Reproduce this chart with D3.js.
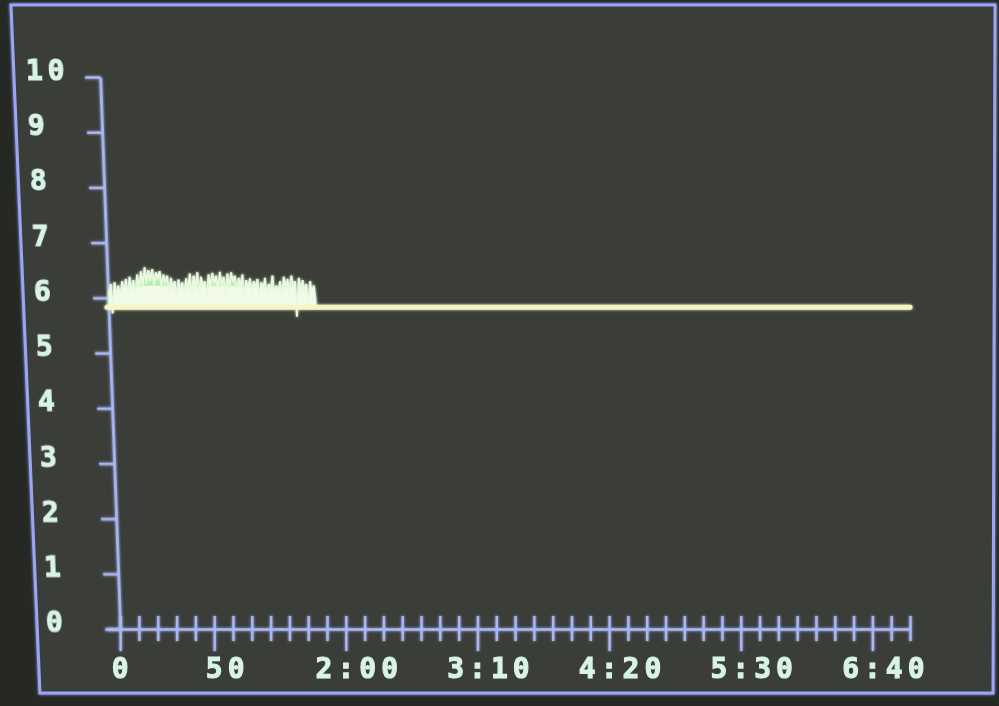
<!DOCTYPE html>
<html>
<head>
<meta charset="utf-8">
<script src="https://cdn.jsdelivr.net/npm/d3@7/dist/d3.min.js"></script>
<style>
  html, body { margin: 0; padding: 0; background: #2b2d28; }
  svg { display: block; }
  .lbl { font-family: "DejaVu Sans Mono", "Liberation Mono", monospace; font-weight: bold; font-size: 28px; letter-spacing: 5px; fill: #d8f3e8; stroke: #d8f3e8; stroke-width: 1.1px; }
</style>
</head>
<body>
<svg id="chart" width="999" height="706"></svg>
<script>
// ---------- DATA ----------
const yTickValues = [0, 1, 2, 3, 4, 5, 6, 7, 8, 9, 10];
const yTickLabels = ["0", "1", "2", "3", "4", "5", "6", "7", "8", "9", "10"];
const xLabelValues = [0, 50, 120, 190, 260, 330, 400];          // seconds
const xLabelTexts  = ["0", "50", "2:00", "3:10", "4:20", "5:30", "6:40"];
const xMinorStep = 10;                                           // minor tick every 10 s
const xDomain = [-7, 420];
const yDomain = [0, 10];

// steady reference trace
const baselineTimes  = [-7, 420];
const baselineValues = [5.83, 5.83];

// noisy measured trace, one sample per second starting at t = -6 s
const signalStart = -6;
const signalValues = [
  6.05, 6.25, 5.72, 6.28, 6.02, 6.22, 5.95, 6.30, 6.05, 6.34,
  5.98, 6.38, 6.10, 6.32, 6.02, 6.42, 6.12, 6.48, 6.20, 6.55,
  6.25, 6.50, 6.30, 6.52, 6.22, 6.46, 6.35, 6.48, 6.18, 6.42,
  6.28, 6.40, 6.05, 6.36, 6.15, 6.30, 5.98, 6.33, 6.12, 6.28,
  6.02, 6.35, 6.10, 6.44, 6.00, 6.40, 6.15, 6.46, 6.05, 6.38,
  6.20, 6.30, 5.96, 6.42, 6.18, 6.45, 6.25, 6.40, 6.10, 6.47,
  6.22, 6.38, 6.02, 6.44, 6.15, 6.46, 6.28, 6.40, 6.08, 6.36,
  6.20, 6.42, 5.98, 6.32, 6.14, 6.35, 6.05, 6.30, 6.18, 6.34,
  5.95, 6.28, 6.12, 6.36, 6.00, 6.25, 6.15, 6.40, 6.05, 6.22,
  6.10, 6.30, 5.98, 6.38, 6.16, 6.34, 6.06, 6.40, 6.20, 6.30,
  5.66, 6.36, 6.08, 6.32, 6.12, 6.25, 5.80, 6.30, 6.10, 6.22,
  5.95
];

// ---------- LAYOUT ----------
const svg = d3.select("#chart");
const W = 999, H = 706;
const x = d3.scaleLinear().domain(xDomain).range([107, 910]);
const y = d3.scaleLinear().domain(yDomain).range([629, 77]);
const skewTan = 0.0363;   // photo keystone of the vertical axis
const skewDeg = Math.atan(skewTan) * 180 / Math.PI;

const defs = svg.append("defs");
const glow = defs.append("filter").attr("id", "glow").attr("x", "-20%").attr("y", "-20%").attr("width", "140%").attr("height", "140%");
glow.append("feGaussianBlur").attr("in", "SourceGraphic").attr("stdDeviation", 1.8).attr("result", "b");
const m = glow.append("feMerge");
m.append("feMergeNode").attr("in", "b");
m.append("feMergeNode").attr("in", "SourceGraphic");
const soft = defs.append("filter").attr("id", "soft");
soft.append("feGaussianBlur").attr("stdDeviation", 0.7);

// screen background and frame
svg.append("rect").attr("width", W).attr("height", H).attr("fill", "#262824");
const frame = [[11, 5], [995, 5], [993, 693], [40, 693]];
svg.append("path")
  .attr("d", "M" + frame.map(p => p.join(",")).join("L") + "Z")
  .attr("fill", "#3b3e37")
  .attr("stroke", "#9aa5f4").attr("stroke-width", 3)
  .attr("filter", "url(#glow)");

const axisColor = "#a9b8f5";

// ---------- X AXIS ----------
const minorTicks = d3.range(xMinorStep, xDomain[1] + 1, xMinorStep).filter(v => !xLabelValues.includes(v));
const gx = svg.append("g").attr("transform", `translate(0,${y(0)})`).attr("filter", "url(#glow)");
gx.call(d3.axisBottom(x).tickValues(minorTicks).tickSizeOuter(0).tickFormat(""));
gx.selectAll(".tick line").attr("y1", -13).attr("y2", 12);
const gxMaj = svg.append("g").attr("transform", `translate(0,${y(0)})`).attr("filter", "url(#glow)");
gxMaj.call(d3.axisBottom(x).tickValues(xLabelValues).tickSizeOuter(0).tickFormat(""));
gxMaj.select(".domain").remove();
gxMaj.selectAll(".tick line").attr("y1", -13).attr("y2", 22);
[gx, gxMaj].forEach(g => {
  g.selectAll(".domain").attr("stroke", axisColor).attr("stroke-width", 2.6);
  g.selectAll(".tick line").attr("stroke", axisColor).attr("stroke-width", 2.4);
});

// x labels: the colon (or first digit) sits on the tick
const pitch = 21.86, half = 8.4;
svg.append("g").attr("filter", "url(#soft)")
  .selectAll("text").data(xLabelValues).join("text")
  .attr("class", "lbl")
  .attr("x", (d, i) => x(d) - ((xLabelTexts[i].indexOf(":") >= 0 ? 1 : 0) * pitch + half))
  .attr("y", 678)
  .text((d, i) => xLabelTexts[i]);

// ---------- Y AXIS (keystoned like the photo) ----------
const gy = svg.append("g")
  .attr("transform", `translate(${x(0) - skewTan * y(0)},0) skewX(${skewDeg})`);
const gyAxis = gy.append("g").attr("filter", "url(#glow)");
gyAxis.call(d3.axisLeft(y).tickValues(yTickValues).tickSize(15).tickSizeOuter(0).tickFormat(""));
gyAxis.select(".domain").attr("stroke", axisColor).attr("stroke-width", 2.6);
gyAxis.selectAll(".tick line").attr("stroke", axisColor).attr("stroke-width", 2.4);
gy.append("g").attr("filter", "url(#soft)")
  .selectAll("text").data(yTickValues).join("text")
  .attr("class", "lbl")
  .attr("x", -74)
  .attr("y", d => y(d) + 3)
  .text((d, i) => yTickLabels[i]);

// ---------- DATA ----------
const plot = svg.append("g").attr("filter", "url(#glow)");
const baseY = y(baselineValues[0]);
const signal = signalValues.map((v, i) => ({ t: signalStart + i, v }));

// spikes from the reference level
plot.append("g").selectAll("line").data(signal).join("line")
  .attr("x1", d => x(d.t)).attr("x2", d => x(d.t))
  .attr("y1", baseY).attr("y2", d => y(d.v))
  .attr("stroke", "#b6f2ae").attr("stroke-width", 2);

// solid lower band of the trace
plot.append("path")
  .datum(signal)
  .attr("d", d3.area().x(d => x(d.t)).y0(baseY).y1(d => y(Math.min(d.v, 6.22))))
  .attr("fill", "#f2fbe8");

// trace itself
plot.append("path")
  .datum(signal)
  .attr("d", d3.line().x(d => x(d.t)).y(d => y(d.v)))
  .attr("fill", "none").attr("stroke", "#f0fae6").attr("stroke-width", 1.8).attr("opacity", 0.85);

// steady level line
plot.append("path")
  .datum(baselineTimes.map((t, i) => ({ t, v: baselineValues[i] })))
  .attr("d", d3.line().x(d => x(d.t)).y(d => y(d.v)))
  .attr("fill", "none").attr("stroke", "#f4f6c8").attr("stroke-width", 5)
  .attr("stroke-linecap", "round");
</script>
</body>
</html>
